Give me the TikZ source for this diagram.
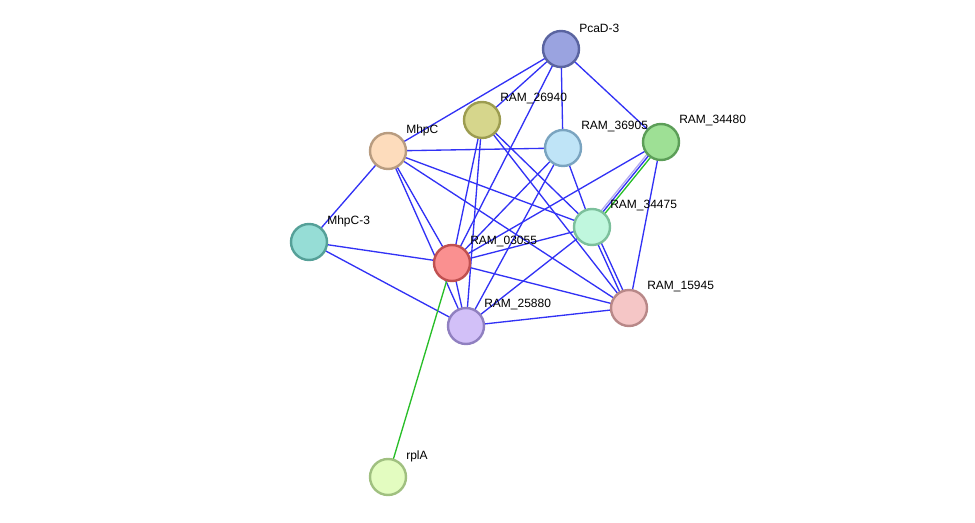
\documentclass[tikz,border=0pt]{standalone}
\usepackage{fontspec}
\setmainfont{Liberation Sans}
\begin{document}
\begin{tikzpicture}[x=0.75pt,y=-0.75pt,
 prot/.style={circle,minimum size=27pt,inner sep=0pt,line width=1.8pt},
 lab/.style={anchor=west,font=\fontsize{9pt}{10pt}\selectfont,inner sep=0pt},
 e/.style={draw={rgb,255:red,50;green,50;blue,245},line width=1pt}]
\useasboundingbox (0,0) rectangle (975,523);
\def\P#1#2#3#4#5#6{%
 \definecolor{f#1}{HTML}{#4}\definecolor{b#1}{HTML}{#5}%
 \coordinate (#1) at (#2,#3);}
\P{pcad}{561}{49}{9AA3E0}{5A64A0}{}
\P{r26940}{482}{120}{D6D68C}{9C9C50}{}
\P{mhpc}{388}{151}{FDDCBC}{B89C80}{}
\P{r36905}{563}{148}{BFE4F7}{7AA4C0}{}
\P{r34480}{661}{142}{9EE095}{5C9E58}{}
\P{mhpc3}{309}{242}{96DDD6}{55A098}{}
\P{r34475}{592}{227}{C0F7DE}{7CC09C}{}
\P{r03055}{452}{263}{FA9090}{C05050}{}
\P{r25880}{466}{326}{D2C0F8}{9080C0}{}
\P{r15945}{629}{308}{F5C6C6}{B88888}{}
\P{rpla}{388}{477}{E3FCC0}{A0C080}{}
% edges
\foreach \a/\b in {pcad/mhpc,pcad/r26940,pcad/r03055,pcad/r36905,pcad/r34480,
 r26940/r03055,r26940/r25880,r26940/r34475,r26940/r15945,
 mhpc/r36905,mhpc/mhpc3,mhpc/r03055,mhpc/r25880,mhpc/r34475,mhpc/r15945,
 r36905/r03055,r36905/r25880,r36905/r34475,
 r34480/r03055,r34480/r15945,
 r34475/r03055,r34475/r25880,
 mhpc3/r03055,mhpc3/r25880,
 r03055/r15945,r03055/r25880,r25880/r15945}
 \draw[e] (\a) -- (\b);
\draw[e] ([xshift=-1.5]r34475) -- ([xshift=-1.5]r15945);
\draw[e] ([xshift=1.5]r34475) -- ([xshift=1.5]r15945);
\draw[draw={rgb,255:red,180;green,170;blue,240},line width=1pt] ([xshift=-3]r34480) -- ([xshift=-3]r34475);
\draw[e] ([xshift=-1]r34480) -- ([xshift=-1]r34475);
\draw[draw={rgb,255:red,40;green,190;blue,40},line width=1pt] ([xshift=1.5]r34480) -- ([xshift=1.5]r34475);
\draw[draw={rgb,255:red,40;green,190;blue,40},line width=1pt] (r03055) -- (rpla);
% nodes
\foreach \n/\t in {pcad/PcaD-3,r26940/RAM\_26940,mhpc/MhpC,r36905/RAM\_36905,r34480/RAM\_34480,
 mhpc3/MhpC-3,r34475/RAM\_34475,r03055/RAM\_03055,r25880/RAM\_25880,r15945/RAM\_15945,rpla/rplA}{
 \node[prot,fill=f\n,draw=b\n] (n\n) at (\n) {};
 \node[lab] (l\n) at ([shift={(18,-21)}]\n) {\t};
}
\end{tikzpicture}
\end{document}
